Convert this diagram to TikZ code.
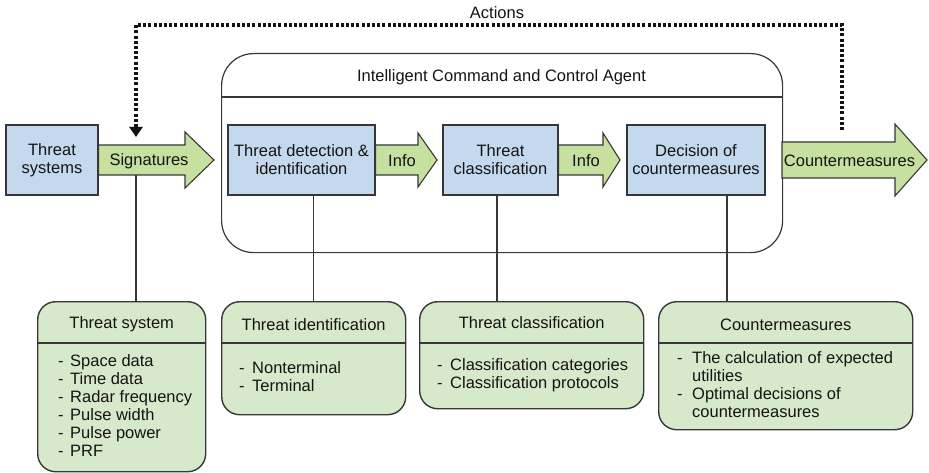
\documentclass[tikz,border=0pt]{standalone}
\usepackage{fontspec}
\setmainfont{Liberation Sans}
\usetikzlibrary{calc,arrows.meta}
\definecolor{bluefill}{RGB}{196,217,238}
\definecolor{arrowgreen}{RGB}{198,224,160}
\definecolor{boxgreen}{RGB}{215,233,203}
\definecolor{edge}{RGB}{55,55,55}
\definecolor{ink}{RGB}{20,20,20}
\newcommand\dashitem[1]{\makebox[#1][l]{-}}
\newcommand\fatarrowpath[6][]{%
  \draw[fatarrow,#1] let \p1=(#2), \p2=(#3) in
    (\x1,\y1+#5) -- (\x2-#4,\y1+#5) -- (\x2-#4,\y1+#6) -- (\x2,\y1)
    -- (\x2-#4,\y1-#6) -- (\x2-#4,\y1-#5) -- (\x1,\y1-#5) -- cycle;}
\begin{document}
\begin{tikzpicture}[x=1pt,y=-1pt,
  every node/.style={font=\fontsize{16.5}{18}\selectfont, text=ink, inner sep=0pt},
  bluebox/.style={draw=edge, line width=1.3pt, fill=bluefill, minimum height=70pt, align=center},
  fatarrow/.style={draw=edge, line width=1.1pt, fill=arrowgreen, line join=miter},
  gbox/.style={draw=edge, line width=1.4pt, fill=boxgreen, rounded corners=18pt, anchor=north west},
  agent/.style={draw=edge, line width=1.2pt, rounded corners=32pt, anchor=north west},
  link/.style={draw=edge, line width=1.5pt},
  feedback/.style={draw=ink, line width=4pt, dash pattern=on 3pt off 2.2pt, -{Triangle[width=13pt,length=10pt]}},
  itemlist/.style={anchor=north west, align=left},
  ]
\useasboundingbox (0,0) rectangle (929,473);

% agent frame
\node[agent, minimum width=561pt, minimum height=199pt] (agent) at (221,53) {};
\draw[link] (agent.west |- 0,97) -- (agent.east |- 0,97);
\node (agenttitle) at (501.5,77) {Intelligent Command and Control Agent};

% blue boxes
\node[bluebox, minimum width=92pt] (ts) at (52,160) {Threat\\systems};
\node[bluebox, minimum width=147pt] (det) at (301.5,160) {Threat detection \&\\identification};
\node[bluebox, minimum width=115pt] (cls) at (500.5,160) {Threat\\classification};
\node[bluebox, minimum width=138pt] (dec) at (696,160) {Decision of\\countermeasures};

% fat arrows
\coordinate (sigtip) at (214,160);
\coordinate (info1tip) at (437,160);
\coordinate (info2tip) at (620,160);
\coordinate (cmstart) at (782,160);
\coordinate (cmtip) at (927,160);
\fatarrowpath{ts.east}{sigtip}{29pt}{15pt}{28pt}
\fatarrowpath{det.east}{info1tip}{19pt}{15pt}{27pt}
\fatarrowpath{cls.east}{info2tip}{17pt}{15pt}{27pt}
\fatarrowpath{cmstart}{cmtip}{32pt}{18pt}{36pt}
\node (siglab) at (149,161) {Signatures};
\node (info1lab) at (402,161) {Info};
\node (info2lab) at (586,161) {Info};
\node (cmlab) at (849.5,161) {Countermeasures};

% feedback
\coordinate (fbstart) at (842,130);
\coordinate (fbend) at (136,137);
\draw[feedback] (fbstart) -- ++(0,-105) -| (fbend);
\node (actions) at (497,13) {Actions};

% bottom boxes
\node[gbox, minimum width=168pt, minimum height=170pt] (tsys) at (37,301) {};
\node[gbox, minimum width=184pt, minimum height=113pt] (tid) at (221,301) {};
\node[gbox, minimum width=224pt, minimum height=107pt] (tcl) at (419,301) {};
\node[gbox, minimum width=254pt, minimum height=128pt] (cmb) at (658,301) {};
\foreach \b in {tsys,tid,tcl,cmb}{
  \draw[link] (\b.west |- 0,343) -- (\b.east |- 0,343);
}
\node (tsystitle) at ($(tsys.north)+(0,23)$) {Threat system};
\node (tidtitle) at ($(tid.north)+(0,24)$) {Threat identification};
\node (tcltitle) at ($(tcl.north)+(0,22)$) {Threat classification};
\node (cmbtitle) at ($(cmb.north)+(0,24)$) {Countermeasures};

\node[itemlist] (tsysitems) at (58,354) {\dashitem{12pt}Space data\\\dashitem{12pt}Time data\\\dashitem{12pt}Radar frequency\\\dashitem{12pt}Pulse width\\\dashitem{12pt}Pulse power\\\dashitem{12pt}PRF};
\node[itemlist] (tiditems) at (239,361) {\dashitem{13pt}Nonterminal\\\dashitem{13pt}Terminal};
\node[itemlist] (tclitems) at (437,358) {\dashitem{13pt}Classification categories\\\dashitem{13pt}Classification protocols};
\node[itemlist] (cmbitems) at (677,351) {\dashitem{15pt}The calculation of expected\\\hspace*{15pt}utilities\\\dashitem{15pt}Optimal decisions of\\\hspace*{15pt}countermeasures};

% links
\coordinate (sigdrop) at (136,175);
\draw[link] (sigdrop) -- (sigdrop |- tsys.north);
\draw[link] (tid.north |- det.south) -- (tid.north);
\coordinate (clsdrop) at ($(cls.south)+(-3.5,0)$);
\draw[link] (clsdrop) -- (clsdrop |- tcl.north);
\coordinate (decdrop) at ($(dec.south)+(31,0)$);
\draw[link] (decdrop) -- (decdrop |- cmb.north);
\end{tikzpicture}
\end{document}
